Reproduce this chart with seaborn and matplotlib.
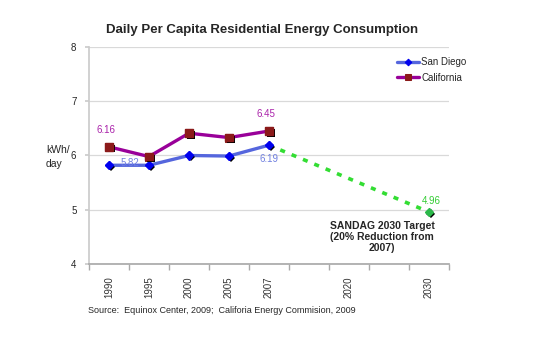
import numpy as np
import matplotlib
matplotlib.use("Agg")
import matplotlib.pyplot as plt
import matplotlib.patheffects as pe
import seaborn as sns

# data
categories = ["1990", "1995", "2000", "2005", "2007", "", "2020", "", "2030"]
hist_years = ["1990", "1995", "2000", "2005", "2007"]
san_diego = [5.82, 5.82, 6.00, 5.99, 6.19]
california = [6.16, 5.98, 6.41, 6.33, 6.45]
target_years = ["2007", "2030"]
target_values = [6.19, 4.96]
y_ticks = [4, 5, 6, 7, 8]

sns.set_theme(style="white")
plt.rcParams['font.family'] = ['Liberation Sans', 'DejaVu Sans']

pos = {c: i for i, c in enumerate(categories) if c}
x_hist = [pos[y] for y in hist_years]
x_target = [pos[y] for y in target_years]

fig = plt.figure(figsize=(5.39, 3.55), dpi=100)
ax = fig.add_axes([0.165, 0.256, 0.668, 0.612])

shadow = [pe.SimplePatchShadow(offset=(1.3, -1.3), shadow_rgbFace='black', alpha=1), pe.Normal()]

# target line
sns.lineplot(x=x_target, y=target_values, ax=ax, color='#33dd33', lw=2.6,
             dashes=False, zorder=2)
ax.lines[-1].set_dashes((1.4, 2.0))
ax.plot(x_target[1:], target_values[1:], ls='none', marker='D', ms=4.5,
        color='#2bb84a', mec='#2bb84a', path_effects=shadow, zorder=5)

sns.lineplot(x=x_hist, y=san_diego, ax=ax, color='#5566dd', lw=2.4,
             marker='D', ms=4.2, mfc='#0000ee', mec='#0000ee', label='San Diego', zorder=3)
sns.lineplot(x=x_hist, y=california, ax=ax, color='#990099', lw=2.4,
             marker='s', ms=5.5, mfc='#8b1a1a', mec='#8b1a1a', label='California', zorder=3)

ax.plot(x_hist, san_diego, ls='none', marker='D', ms=4.2, color='#0000ee',
        path_effects=shadow, zorder=4)
ax.plot(x_hist, california, ls='none', marker='s', ms=5.5, color='#8b1a1a',
        path_effects=shadow, zorder=4)

# value labels
ax.annotate(f"{california[0]:.2f}", (x_hist[0], california[0]), xytext=(-2, 10),
            textcoords='offset points', color='#aa22aa', fontsize=7, ha='center')
ax.annotate(f"{california[-1]:.2f}", (x_hist[-1], california[-1]), xytext=(-2, 10),
            textcoords='offset points', color='#aa22aa', fontsize=7, ha='center')
ax.annotate(f"{san_diego[0]:.2f}", (x_hist[0], san_diego[0]), xytext=(8, -2),
            textcoords='offset points', color='#7080e0', fontsize=7, ha='left', va='bottom')
ax.annotate(f"{san_diego[-1]:.2f}", (x_hist[-1], san_diego[-1]), xytext=(0, -6),
            textcoords='offset points', color='#7080e0', fontsize=7, ha='center', va='top')
ax.annotate(f"{target_values[-1]:.2f}", (x_target[-1], target_values[-1]), xytext=(2, 6),
            textcoords='offset points', color='#33cc33', fontsize=7, ha='center')
ax.text(6.83, 4.5, "SANDAG 2030 Target\n(20% Reduction from\n2007)", ha='center', va='center',
        fontsize=7.5, fontweight='bold', linespacing=1.15)

# axes styling
ax.set_xlim(-0.5, len(categories) - 0.5)
ax.set_ylim(4, 8)
ax.set_yticks(y_ticks)
ax.set_yticklabels([str(v) for v in y_ticks], fontsize=7)
ax.set_xticks(np.arange(len(categories)))
ax.set_xticklabels(categories, rotation=90, fontsize=7)
ax.set_xticks(np.arange(len(categories) + 1) - 0.5, minor=True)
ax.tick_params(axis='x', which='major', length=0, pad=9, labelcolor='#333333')
ax.tick_params(axis='x', which='minor', length=4, color='#aaaaaa', direction='out', bottom=True)
ax.tick_params(axis='y', length=3, color='#cccccc', direction='out', left=True, pad=6)
ax.grid(axis='y', color='#d9d9d9', lw=0.9)
ax.set_axisbelow(True)
for s in ['top', 'right']:
    ax.spines[s].set_visible(False)
ax.spines['left'].set_color('#cccccc')
ax.spines['bottom'].set_color('#aaaaaa')
ax.set_xlabel("")
ax.set_ylabel("")

ax.legend(loc='upper right', frameon=False, fontsize=7, handlelength=2.2, markerscale=0.8,
          handletextpad=0.3, borderaxespad=0.0, labelspacing=0.55, bbox_to_anchor=(1.06, 0.97))

fig.text(0.487, 0.915, "Daily Per Capita Residential Energy Consumption", ha='center',
         va='center', fontsize=9.5, fontweight='bold')
fig.text(0.085, 0.558, "kWh/\nday", ha='left', va='center', fontsize=7.5, linespacing=1.4)
fig.text(0.163, 0.124, "Source:  Equinox Center, 2009;  Califoria Energy Commision, 2009",
         ha='left', va='center', fontsize=6.5)

fig.savefig("out.png", dpi=100)
